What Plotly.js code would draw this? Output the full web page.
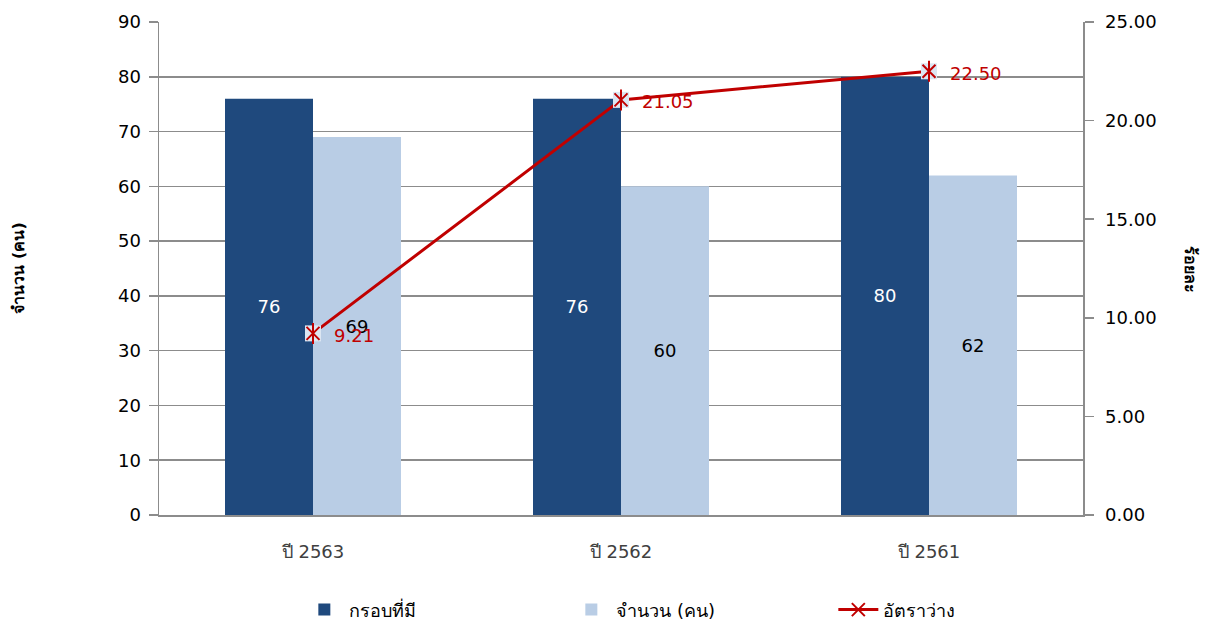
<!DOCTYPE html>
<html>
<head>
<meta charset="utf-8">
<script src="https://cdn.plot.ly/plotly-3.0.1.min.js"></script>
<style>
  html, body { margin: 0; padding: 0; background: #ffffff; }
  #chart { width: 1207px; height: 623px; }
</style>
</head>
<body>
<div id="chart"></div>
<script>
// Staff positions, headcount and vacancy rate by year
const years = ['ปี 2563', 'ปี 2562', 'ปี 2561'];
const positions = [76, 76, 80];      // กรอบที่มี
const headcount = [69, 60, 62];      // จำนวน (คน)
const vacancyRate = [9.21, 21.05, 22.50]; // อัตราว่าง (ร้อยละ)

const FONT = 'Tahoma, "DejaVu Sans", "Noto Sans", sans-serif';
const DARK = '#1F497D';
const LIGHT = '#B9CDE5';
const RED = '#C00000';
const GRID = '#8C8C8C';

const traces = [
  {
    type: 'bar', name: 'กรอบที่มี', x: years, y: positions,
    marker: { color: DARK },
    text: positions.map(String), textposition: 'inside', insidetextanchor: 'middle',
    textangle: 0, constraintext: 'none',
    textfont: { family: FONT, size: 18, color: '#ffffff' },
    hoverinfo: 'x+y'
  },
  {
    type: 'bar', name: 'จำนวน (คน)', x: years, y: headcount,
    marker: { color: LIGHT },
    text: headcount.map(String), textposition: 'inside', insidetextanchor: 'middle',
    textangle: 0, constraintext: 'none',
    textfont: { family: FONT, size: 18, color: '#000000' },
    hoverinfo: 'x+y'
  },
  {
    type: 'scatter', mode: 'lines+markers', name: 'อัตราว่าง', x: years, y: vacancyRate,
    yaxis: 'y2',
    line: { color: RED, width: 3 },
    marker: { symbol: 'x-thin-open', size: 13, color: RED, line: { color: RED, width: 2 } },
    hoverinfo: 'x+y'
  },
  {
    // light square behind each star marker
    type: 'scatter', mode: 'markers', x: years, y: vacancyRate, yaxis: 'y2',
    showlegend: false, hoverinfo: 'skip',
    marker: { symbol: 'square', size: 16, color: '#DCE6F2', line: { width: 0 } }
  },
  {
    type: 'scatter', mode: 'markers', x: years, y: vacancyRate, yaxis: 'y2',
    showlegend: false, hoverinfo: 'skip',
    marker: { symbol: 'x-thin-open', size: 13, color: RED, line: { color: RED, width: 2 } }
  },
  {
    type: 'scatter', mode: 'markers', x: years, y: vacancyRate, yaxis: 'y2',
    showlegend: false, hoverinfo: 'skip',
    marker: { symbol: 'line-ns-open', size: 15, color: RED, line: { color: RED, width: 2 } }
  }
];

// value labels beside the rate markers
const rateLabels = years.map((yr, i) => ({
  x: yr, y: vacancyRate[i], xref: 'x', yref: 'y2',
  text: vacancyRate[i].toFixed(2), showarrow: false,
  xanchor: 'left', yanchor: 'middle', xshift: 19, yshift: -2,
  font: { family: FONT, size: 18, color: RED }
}));

const layout = {
  width: 1207, height: 623,
  margin: { l: 159, r: 124, t: 22, b: 108, autoexpand: false },
  paper_bgcolor: '#ffffff', plot_bgcolor: '#ffffff',
  font: { family: FONT, size: 18, color: '#000000' },
  barmode: 'group', bargap: 0.4286, bargroupgap: 0,
  showlegend: true,
  legend: {
    orientation: 'h', xref: 'container', yref: 'container',
    x: 0.248, xanchor: 'left', y: 0.021, yanchor: 'middle',
    font: { family: FONT, size: 18, color: '#000000' },
    entrywidth: 212, entrywidthmode: 'pixels', traceorder: 'normal', itemwidth: 40
  },
  xaxis: {
    type: 'category', showgrid: false, zeroline: false,
    showline: true, linecolor: GRID, linewidth: 1.5,
    ticks: '', tickfont: { family: FONT, size: 18, color: '#404040' },
    ticklabelstandoff: 20, fixedrange: true
  },
  yaxis: {
    range: [0, 90], dtick: 10, tick0: 0,
    showgrid: true, gridcolor: GRID, gridwidth: 1.5,
    zeroline: false, showline: true, linecolor: GRID, linewidth: 1.5,
    ticks: 'outside', ticklen: 9, tickcolor: GRID, tickwidth: 1.5,
    tickfont: { family: FONT, size: 18, color: '#000000' },
    ticklabelstandoff: 4, fixedrange: true
  },
  yaxis2: {
    overlaying: 'y', side: 'right',
    range: [0, 25], dtick: 5, tick0: 0, tickformat: '.2f',
    showgrid: false, zeroline: false, showline: true, linecolor: GRID, linewidth: 1.5,
    ticks: 'outside', ticklen: 9, tickcolor: GRID, tickwidth: 1.5,
    tickfont: { family: FONT, size: 18, color: '#000000' },
    ticklabelstandoff: 8, fixedrange: true
  },
  annotations: [
    {
      text: '<b>จำนวน (คน)</b>', xref: 'paper', yref: 'paper', x: 0, y: 0.5,
      xanchor: 'center', yanchor: 'middle', xshift: -141, textangle: -90,
      showarrow: false, font: { family: FONT, size: 16, color: '#000000' }
    },
    {
      text: '<b>ร้อยละ</b>', xref: 'paper', yref: 'paper', x: 1, y: 0.5,
      xanchor: 'center', yanchor: 'middle', xshift: 107, textangle: 90,
      showarrow: false, font: { family: FONT, size: 16, color: '#000000' }
    }
  ].concat(rateLabels)
};

Plotly.newPlot('chart', traces, layout, { displayModeBar: false, staticPlot: true });
</script>
</body>
</html>
